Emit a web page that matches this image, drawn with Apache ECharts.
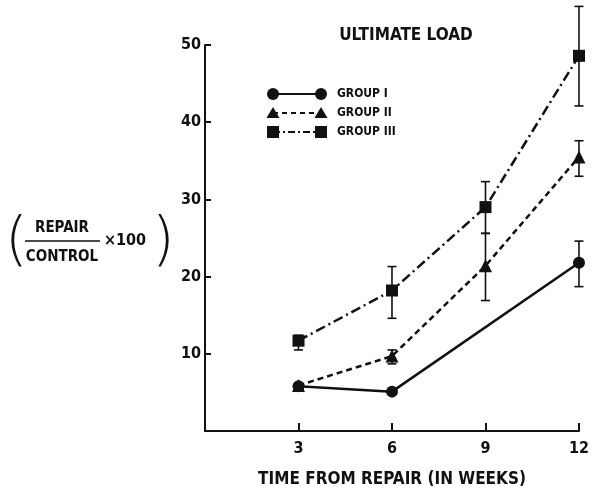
<!DOCTYPE html>
<html>
<head>
<meta charset="utf-8">
<script src="https://cdn.jsdelivr.net/npm/echarts@6/dist/echarts.min.js"></script>
<style>html,body{margin:0;padding:0;background:#fff}#c{width:592px;height:493px}</style>
</head>
<body>
<div id="c"></div>
<script>
var weeks = [3, 6, 9, 12];
var group1Weeks = [3, 6, 12];
var group1 = [5.8, 5.1, 21.8];
var group1Low = [null, null, 18.7];
var group1High = [null, null, 24.6];
var group2 = [5.9, 9.7, 21.4, 35.5];
var group2Low = [null, 8.7, 16.9, 33.0];
var group2High = [null, 10.5, 25.6, 37.6];
var group3 = [11.7, 18.2, 29.0, 48.6];
var group3Low = [10.5, 14.6, 25.6, 42.1];
var group3High = [12.4, 21.3, 32.3, 55.0];
var xTicks = [3, 6, 9, 12];
var yTicks = [10, 20, 30, 40, 50];
var seriesNames = ['GROUP I', 'GROUP II', 'GROUP III'];

var FONT = "'Liberation Sans Narrow', 'DejaVu Sans Condensed', sans-serif";
var INK = '#111';

function pairs(xs, ys) { return xs.map(function (x, i) { return [x, ys[i]]; }); }
function errData(xs, lo, hi) {
  var out = [];
  xs.forEach(function (x, i) { if (lo[i] != null) out.push([x, lo[i], hi[i]]); });
  return out;
}
function errSeries(data) {
  return {
    type: 'custom', data: data, clip: false, z: 1, silent: true,
    renderItem: function (params, api) {
      var x = api.value(0);
      var p1 = api.coord([x, api.value(1)]);
      var p2 = api.coord([x, api.value(2)]);
      var w = 4.5;
      var st = { stroke: INK, lineWidth: 1.6 };
      return { type: 'group', children: [
        { type: 'line', shape: { x1: p1[0], y1: p1[1], x2: p2[0], y2: p2[1] }, style: st },
        { type: 'line', shape: { x1: p1[0] - w, y1: p1[1], x2: p1[0] + w, y2: p1[1] }, style: st },
        { type: 'line', shape: { x1: p2[0] - w, y1: p2[1], x2: p2[0] + w, y2: p2[1] }, style: st }
      ]};
    }
  };
}
function lineSeries(name, data, symbol, size, dash) {
  return {
    name: name, type: 'line', data: data, symbol: symbol, symbolSize: size,
    clip: false, z: 3,
    lineStyle: { color: INK, width: 2.5, type: dash },
    itemStyle: { color: INK, borderWidth: 0 }
  };
}

var chart = echarts.init(document.getElementById('c'), null, { renderer: 'canvas' });

var legendRows = [
  { y: 94, sym: 'circle', dash: 'solid' },
  { y: 113, sym: 'triangle', dash: [5, 4] },
  { y: 132, sym: 'rect', dash: [7, 3, 2, 3] }
];
var legendGraphics = [];
legendRows.forEach(function (r, i) {
  legendGraphics.push({ type: 'line', shape: { x1: 273, y1: r.y, x2: 321, y2: r.y }, style: { stroke: INK, lineWidth: 2.2, lineDash: r.dash === 'solid' ? null : r.dash } });
  [273, 321].forEach(function (cx) {
    if (r.sym === 'circle') legendGraphics.push({ type: 'circle', shape: { cx: cx, cy: r.y, r: 6 }, style: { fill: INK } });
    else if (r.sym === 'triangle') legendGraphics.push({ type: 'polygon', shape: { points: [[cx, r.y - 6], [cx - 6.5, r.y + 5], [cx + 6.5, r.y + 5]] }, style: { fill: INK } });
    else legendGraphics.push({ type: 'rect', shape: { x: cx - 6, y: r.y - 6, width: 12, height: 12 }, style: { fill: INK } });
  });
  legendGraphics.push({ type: 'text', x: 337, y: r.y, style: { text: seriesNames[i], fill: INK, font: 'bold 12px ' + FONT, verticalAlign: 'middle' } });
});

var option = {
  backgroundColor: '#fff',
  animation: false,
  title: {
    text: 'ULTIMATE LOAD', left: 401, top: 22, textAlign: 'center',
    textStyle: { color: INK, fontFamily: FONT, fontWeight: 'bold', fontSize: 17 }
  },
  grid: { left: 205, right: 9, top: 45, bottom: 57, containLabel: false },
  xAxis: {
    type: 'value', min: 0, max: 12, interval: 3,
    name: 'TIME FROM REPAIR (IN WEEKS)', nameLocation: 'middle', nameGap: 40,
    nameTextStyle: { color: INK, fontFamily: FONT, fontWeight: 'bold', fontSize: 17 },
    axisLine: { lineStyle: { color: INK, width: 2 } },
    axisTick: { inside: true, length: 8, lineStyle: { color: INK, width: 2 } },
    axisLabel: { color: INK, fontFamily: FONT, fontWeight: 'bold', fontSize: 16, margin: 10,
      formatter: function (v) { return xTicks.indexOf(v) >= 0 ? String(v) : ''; } },
    splitLine: { show: false }
  },
  yAxis: {
    type: 'value', min: 0, max: 50, interval: 10,
    axisLine: { show: true, lineStyle: { color: INK, width: 2 } },
    axisTick: { show: true, inside: true, length: 6, lineStyle: { color: INK, width: 2 } },
    axisLabel: { color: INK, fontFamily: FONT, fontWeight: 'bold', fontSize: 16, margin: 4,
      formatter: function (v) { return yTicks.indexOf(v) >= 0 ? String(v) : ''; } },
    splitLine: { show: false }
  },
  graphic: legendGraphics.concat([
    { type: 'text', x: 5, y: 244, style: { text: '(', fill: INK, font: '200 58px "DejaVu Sans"', verticalAlign: 'middle' } },
    { type: 'text', x: 62, y: 228, style: { text: 'REPAIR', fill: INK, font: 'bold 15px ' + FONT, align: 'center', verticalAlign: 'middle' } },
    { type: 'line', shape: { x1: 25, y1: 241, x2: 100, y2: 241 }, style: { stroke: INK, lineWidth: 1.5 } },
    { type: 'text', x: 62, y: 257, style: { text: 'CONTROL', fill: INK, font: 'bold 15px ' + FONT, align: 'center', verticalAlign: 'middle' } },
    { type: 'text', x: 104, y: 241, style: { text: '×100', fill: INK, font: 'bold 16px ' + FONT, verticalAlign: 'middle' } },
    { type: 'text', x: 152, y: 244, style: { text: ')', fill: INK, font: '200 58px "DejaVu Sans"', verticalAlign: 'middle' } }
  ]),
  series: [
    errSeries(errData(group1Weeks, group1Low, group1High)),
    errSeries(errData(weeks, group2Low, group2High)),
    errSeries(errData(weeks, group3Low, group3High)),
    lineSeries(seriesNames[0], pairs(group1Weeks, group1), 'circle', 12, 'solid'),
    lineSeries(seriesNames[1], pairs(weeks, group2), 'triangle', 13, [6, 4]),
    lineSeries(seriesNames[2], pairs(weeks, group3), 'rect', 12, [10, 4, 2, 4])
  ]
};
chart.setOption(option);
</script>
</body>
</html>
